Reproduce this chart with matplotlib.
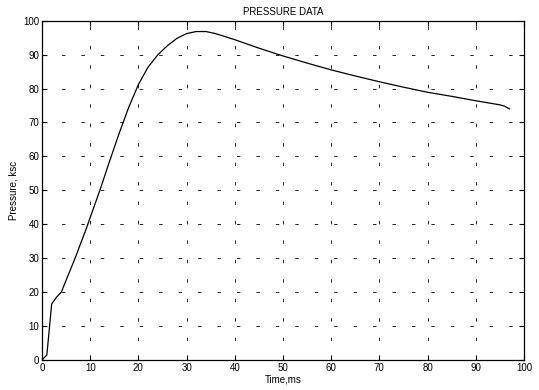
import matplotlib
matplotlib.use('Agg')
import matplotlib.pyplot as plt

plt.rcParams['font.family'] = ['Liberation Sans', 'DejaVu Sans']
plt.rcParams['lines.scale_dashes'] = False

# time (ms) and pressure (ksc)
time_ms = [0, 1, 2, 3, 4, 5, 6, 7, 8, 9, 10, 12, 14, 16, 18, 20, 22, 24, 26, 28,
           30, 32, 34, 36, 38, 40, 45, 50, 55, 60, 65, 70, 75, 80, 85, 90, 95,
           96, 97]
pressure = [0, 1.5, 16.5, 18.5, 20, 23.5, 27, 30.5, 34.3, 38, 42, 50, 58.5, 66.8,
            74.5, 81.2, 86.3, 89.9, 92.6, 94.8, 96.2, 96.8, 96.8, 96.2, 95.3, 94.4,
            91.9, 89.6, 87.5, 85.5, 83.7, 82.0, 80.4, 78.9, 77.7, 76.4, 75.2,
            74.8, 74.0]
ticks = list(range(0, 101, 10))

fig = plt.figure(figsize=(5.39, 3.9), dpi=100)
ax = fig.add_axes([0.078, 0.077, 0.894, 0.87])

ax.plot(time_ms, pressure, color='black', lw=0.9)

ax.set_xlim(0, 100)
ax.set_ylim(0, 100)
ax.set_xticks(ticks)
ax.set_yticks(ticks)
ax.tick_params(direction='in', top=True, right=True, length=3.5, width=0.8,
               labelsize=7, pad=2)
for s in ax.spines.values():
    s.set_linewidth(0.9)

ax.grid(True, color='black', lw=0.6, linestyle=(0, (2.5, 11.5)))

ax.set_title('PRESSURE DATA', fontsize=7, pad=4)
ax.set_xlabel('Time,ms', fontsize=7, labelpad=1)
ax.set_ylabel('Pressure, ksc', fontsize=7, labelpad=3)

fig.savefig('out.png', dpi=100)
